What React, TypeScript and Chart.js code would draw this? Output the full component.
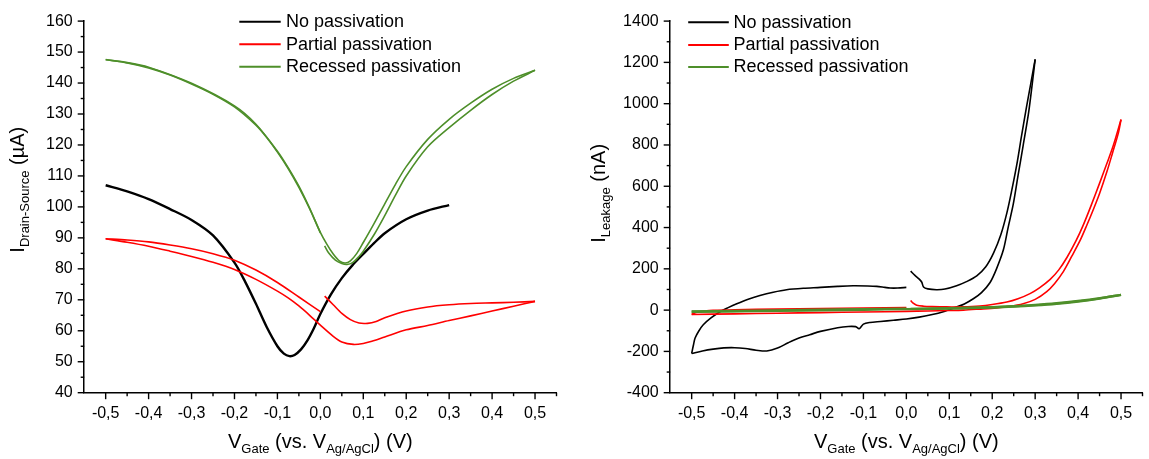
import React, { useEffect, useRef } from 'react';
import Chart from 'chart.js/auto';

const FONT = "Arial, 'Liberation Sans', sans-serif";
const BLACK = '#000000';
const RED = '#ff0000';
const GREEN = '#4e8f2a';

const seriesNames = ['No passivation', 'Partial passivation', 'Recessed passivation'];
const seriesColors = [BLACK, RED, GREEN];

const xTickValues = [-0.5, -0.4, -0.3, -0.2, -0.1, 0, 0.1, 0.2, 0.3, 0.4, 0.5];
const xTickLabels = ['-0,5', '-0,4', '-0,3', '-0,2', '-0,1', '0,0', '0,1', '0,2', '0,3', '0,4', '0,5'];
const idsTickValues = [40, 50, 60, 70, 80, 90, 100, 110, 120, 130, 140, 150, 160];
const idsTickLabels = ['40', '50', '60', '70', '80', '90', '100', '110', '120', '130', '140', '150', '160'];
const leakTickValues = [-400, -200, 0, 200, 400, 600, 800, 1000, 1200, 1400];
const leakTickLabels = ['-400', '-200', '0', '200', '400', '600', '800', '1000', '1200', '1400'];

// ---------- Left panel: I Drain-Source (µA) ----------
const idsNoV = [-0.5, -0.45, -0.4, -0.35, -0.3, -0.25, -0.2, -0.175, -0.15, -0.125, -0.1, -0.085, -0.072, -0.06, -0.045, -0.03, -0.015, 0.0, 0.025, 0.05, 0.075, 0.1, 0.125, 0.15, 0.2, 0.25, 0.3];
const idsNoI = [107.0, 105.0, 102.5, 99.3, 95.8, 90.8, 82.0, 75.8, 68.7, 61.2, 55.0, 52.6, 51.8, 52.2, 54.0, 56.9, 60.8, 65.4, 71.8, 77.0, 81.2, 84.8, 88.3, 91.5, 96.0, 98.8, 100.6];

const idsPartFwdV = [0.01, 0.03, 0.05, 0.07, 0.09, 0.11, 0.13, 0.15, 0.2, 0.25, 0.3, 0.35, 0.4, 0.45, 0.5];
const idsPartFwdI = [71.2, 68.4, 65.6, 63.6, 62.5, 62.4, 63.0, 64.2, 66.4, 67.7, 68.4, 68.8, 69.0, 69.2, 69.5];
const idsPartRevV = [0.5, 0.45, 0.4, 0.35, 0.3, 0.25, 0.2, 0.15, 0.12, 0.1, 0.077, 0.05, 0.03, 0.0, -0.025, -0.05, -0.075, -0.1, -0.15, -0.2, -0.25, -0.3, -0.35, -0.4, -0.45, -0.5];
const idsPartRevI = [69.5, 67.9, 66.4, 64.8, 63.3, 61.7, 60.3, 58.0, 56.6, 55.9, 55.6, 56.4, 58.2, 61.8, 65.0, 68.0, 70.6, 72.8, 76.6, 79.8, 82.1, 84.0, 85.7, 87.3, 88.6, 89.7];
const idsPartRetV = [-0.5, -0.45, -0.4, -0.35, -0.3, -0.25, -0.2, -0.15, -0.1, -0.05, 0.0];
const idsPartRetI = [89.7, 89.3, 88.7, 87.7, 86.5, 84.9, 82.8, 79.6, 75.6, 70.9, 66.2];

const idsRecFwdV = [0.01, 0.02, 0.035, 0.05, 0.062, 0.075, 0.09, 0.1, 0.125, 0.15, 0.175, 0.2, 0.25, 0.3, 0.35, 0.4, 0.45, 0.5];
const idsRecFwdI = [87.4, 85.0, 82.8, 81.7, 81.4, 82.0, 84.0, 85.7, 91.0, 97.2, 103.8, 110.0, 119.4, 125.6, 131.2, 136.3, 140.6, 144.1];
const idsRecRevV = [0.5, 0.45, 0.4, 0.35, 0.3, 0.25, 0.2, 0.175, 0.15, 0.125, 0.1, 0.085, 0.07, 0.058, 0.045, 0.03, 0.015, 0.0, -0.025, -0.05, -0.075, -0.1, -0.125, -0.15, -0.2, -0.25, -0.3, -0.35, -0.4, -0.45, -0.5];
const idsRecRevI = [144.1, 141.5, 138.0, 133.5, 128.3, 121.8, 113.0, 107.3, 101.0, 94.6, 88.5, 85.0, 82.6, 81.9, 82.5, 84.8, 88.0, 91.8, 99.4, 106.3, 112.4, 117.7, 122.4, 126.4, 132.3, 136.4, 139.7, 142.6, 144.9, 146.5, 147.6];
const idsRecRetV = [-0.5, -0.45, -0.4, -0.3, -0.2, -0.15, -0.1, -0.075, -0.05, -0.025, 0.0];
const idsRecRetI = [147.5, 146.6, 145.1, 139.9, 132.6, 126.7, 118.0, 112.7, 106.7, 99.6, 91.6];

// ---------- Right panel: I Leakage (nA) ----------
const lkNoFwdV = [0.01, 0.02, 0.03, 0.036, 0.04, 0.05, 0.07, 0.09, 0.117, 0.14, 0.164, 0.185, 0.203, 0.22, 0.234, 0.245, 0.257, 0.268, 0.28, 0.29, 0.3];
const lkNoFwdI = [189, 168, 150, 135, 112, 103, 99, 102, 118, 138, 166, 210, 276, 365, 470, 575, 702, 840, 986, 1100, 1215];
const lkNoRevV = [0.3, 0.296, 0.285, 0.272, 0.26, 0.249, 0.237, 0.226, 0.21, 0.195, 0.175, 0.156, 0.135, 0.117, 0.09, 0.055, 0.03, 0.0, -0.03, -0.06, -0.085, -0.1, -0.11, -0.118, -0.135, -0.16, -0.2, -0.225, -0.25, -0.275, -0.3, -0.325, -0.35, -0.375, -0.4, -0.425, -0.45, -0.475, -0.5];
const lkNoRevI = [1215, 1144, 960, 797, 650, 513, 400, 292, 200, 134, 85, 55, 30, 15, -5, -24, -34, -43, -49, -55, -60, -68, -90, -80, -79, -85, -103, -119, -135, -158, -184, -198, -194, -186, -182, -183, -189, -198, -210];
const lkNoRetV = [-0.5, -0.496, -0.492, -0.483, -0.473, -0.455, -0.434, -0.415, -0.395, -0.37, -0.341, -0.31, -0.279, -0.24, -0.2, -0.16, -0.124, -0.09, -0.069, -0.05, -0.038, -0.02, 0.0];
const lkNoRetI = [-210, -170, -135, -100, -71, -38, -8, 12, 31, 52, 71, 87, 99, 106, 110, 115, 118, 117, 115, 110, 107, 107, 110];

const lkPartFwdV = [0.01, 0.015, 0.024, 0.04, 0.06, 0.094, 0.13, 0.171, 0.2, 0.234, 0.26, 0.288, 0.31, 0.335, 0.355, 0.374, 0.395, 0.412, 0.43, 0.451, 0.467, 0.482, 0.5];
const lkPartFwdI = [47, 35, 24, 19, 17, 15.5, 16, 20, 27, 39, 55, 80, 108, 149, 195, 255, 335, 412, 505, 620, 710, 797, 923];
const lkPartRevV = [0.5, 0.494, 0.48, 0.467, 0.45, 0.436, 0.42, 0.405, 0.385, 0.366, 0.345, 0.327, 0.3, 0.272, 0.24, 0.21, 0.17, 0.133, 0.1, 0.05, 0.0, -0.1, -0.2, -0.3, -0.4, -0.5];
const lkPartRevI = [923, 860, 760, 670, 565, 490, 410, 339, 260, 188, 128, 90, 52, 31, 18, 11, 5, 0, -2, -4, -6, -9, -12, -15, -18, -21];
const lkPartRetV = [-0.5, -0.49, -0.47, -0.45, -0.4, -0.3, -0.2, -0.1, 0.0];
const lkPartRetI = [-21, -12, -5, -1, 2, 5, 8, 10.5, 13];

const lkRecFwdV = [0.01, 0.1, 0.2, 0.25, 0.3, 0.35, 0.4, 0.45, 0.5];
const lkRecFwdI = [6, 8, 13, 17, 23, 31, 42, 56, 74];
const lkRecRevV = [0.5, 0.45, 0.4, 0.35, 0.3, 0.25, 0.2, 0.1, 0.0, -0.1, -0.2, -0.3, -0.4, -0.5];
const lkRecRevI = [74, 57.5, 44, 33, 25, 19, 14.5, 9, 5, 2, -1, -3.5, -6, -8];
const lkRecRetV = [-0.5, -0.4, -0.3, -0.2, -0.1, 0.0];
const lkRecRetI = [-7, -4, -1, 2, 5, 7];

function branch(vs: number[], is: number[], color: string, width: number, order: number) {
  return {
    data: vs.map((v, k) => ({ x: v, y: is[k] })),
    borderColor: color,
    backgroundColor: color,
    borderWidth: width,
    showLine: true,
    pointRadius: 0,
    pointHoverRadius: 0,
    fill: false,
    tension: 0.3,
    borderJoinStyle: 'round',
    order,
  };
}

type Seg = { t: string; sub?: boolean };

function drawRich(ctx: CanvasRenderingContext2D, segs: Seg[], main: number, sub: number, shift: number) {
  let total = 0;
  const widths = segs.map((s) => {
    ctx.font = `${s.sub ? sub : main}px ${FONT}`;
    const w = ctx.measureText(s.t).width;
    total += w;
    return w;
  });
  let x = -total / 2;
  ctx.textBaseline = 'alphabetic';
  ctx.textAlign = 'left';
  segs.forEach((s, i) => {
    ctx.font = `${s.sub ? sub : main}px ${FONT}`;
    ctx.fillText(s.t, x, s.sub ? shift : 0);
    x += widths[i];
  });
}

const decorPlugin = {
  id: 'decor',
  afterDraw(chart: any, _args: any, o: any) {
    const ctx: CanvasRenderingContext2D = chart.ctx;
    const xs = chart.scales.x;
    const ys = chart.scales.y;
    const area = chart.chartArea;
    ctx.save();
    ctx.strokeStyle = '#000';
    ctx.lineWidth = 1.4;
    const seg = (x1: number, y1: number, x2: number, y2: number) => {
      ctx.beginPath();
      ctx.moveTo(x1, y1);
      ctx.lineTo(x2, y2);
      ctx.stroke();
    };
    const majX: number[] = o.xMajor;
    const majY: number[] = o.yMajor;
    majX.forEach((v) => {
      const p = xs.getPixelForValue(v);
      seg(p, area.bottom, p, area.bottom + 6.5);
    });
    for (let i = 0; i < majX.length - 1; i++) {
      const p = xs.getPixelForValue((majX[i] + majX[i + 1]) / 2);
      seg(p, area.bottom, p, area.bottom + 3.5);
    }
    {
      const step = majX[1] - majX[0];
      const pl = xs.getPixelForValue(majX[majX.length - 1] + step / 2);
      if (pl <= area.right + 0.5) seg(pl, area.bottom, pl, area.bottom + 3.5);
    }
    majY.forEach((v) => {
      const p = ys.getPixelForValue(v);
      seg(area.left, p, area.left - 6.5, p);
    });
    for (let i = 0; i < majY.length - 1; i++) {
      const p = ys.getPixelForValue((majY[i] + majY[i + 1]) / 2);
      seg(area.left, p, area.left - 3.5, p);
    }

    // axis titles
    ctx.fillStyle = '#000';
    ctx.save();
    ctx.translate((area.left + area.right) / 2, o.xTitleY);
    drawRich(ctx, o.xTitle, 20, 13, 5);
    ctx.restore();
    ctx.save();
    ctx.translate(o.yTitleX, o.yTitleCY);
    ctx.rotate(-Math.PI / 2);
    drawRich(ctx, o.yTitle, 20, 13, 5);
    ctx.restore();

    // legend
    const L = o.legend;
    ctx.font = `18px ${FONT}`;
    ctx.textBaseline = 'middle';
    ctx.textAlign = 'left';
    seriesNames.forEach((name, i) => {
      const y = L.rows[i];
      ctx.strokeStyle = seriesColors[i];
      ctx.lineWidth = 2;
      seg(L.x1, y, L.x2, y);
      ctx.fillStyle = '#000';
      ctx.fillText(name, L.tx, y + 0.5);
    });
    ctx.restore();
  },
};

function makeConfig(p: any) {
  return {
    type: 'scatter',
    data: { datasets: p.datasets },
    plugins: [decorPlugin],
    options: {
      responsive: false,
      animation: false,
      events: [],
      layout: { padding: { left: 0, top: p.top, right: p.canvasW - p.right, bottom: 0 } },
      plugins: {
        legend: { display: false },
        tooltip: { enabled: false },
        decor: p.decor,
      },
      scales: {
        x: {
          type: 'linear',
          position: 'bottom',
          min: -0.55,
          max: 0.55,
          afterBuildTicks: (axis: any) => {
            axis.ticks = xTickValues.map((v) => ({ value: v }));
          },
          afterFit: (s: any) => {
            s.height = 459 - p.bottom;
          },
          grid: { display: false, drawTicks: false, tickLength: 0 },
          border: { display: true, color: '#000', width: 1.5 },
          ticks: {
            autoSkip: false,
            maxRotation: 0,
            minRotation: 0,
            padding: 11,
            color: '#000',
            font: { family: FONT, size: 16 },
            callback: (_v: any, i: number) => xTickLabels[i],
          },
        },
        y: {
          type: 'linear',
          position: 'left',
          min: p.yMin,
          max: p.yMax,
          afterBuildTicks: (axis: any) => {
            axis.ticks = p.yTicks.map((v: number) => ({ value: v }));
          },
          afterFit: (s: any) => {
            s.width = p.left;
          },
          grid: { display: false, drawTicks: false, tickLength: 0 },
          border: { display: true, color: '#000', width: 1.5 },
          ticks: {
            autoSkip: false,
            padding: 11.5,
            color: '#000',
            font: { family: FONT, size: 16 },
            callback: (_v: any, i: number) => p.yLabels[i],
          },
        },
      },
    },
  };
}

const xTitleSegs: Seg[] = [
  { t: 'V' },
  { t: 'Gate', sub: true },
  { t: ' (vs. V' },
  { t: 'Ag/AgCl', sub: true },
  { t: ') (V)' },
];

export default function App() {
  const leftRef = useRef<HTMLCanvasElement>(null);
  const rightRef = useRef<HTMLCanvasElement>(null);

  useEffect(() => {
    const leftCfg = makeConfig({
      canvasW: 575,
      left: 84.2,
      right: 556.5,
      top: 12.7,
      bottom: 392.7,
      yMin: 40,
      yMax: 160,
      yTicks: idsTickValues,
      yLabels: idsTickLabels,
      datasets: [
        branch(idsNoV, idsNoI, BLACK, 2.4, 3),
        branch(idsPartFwdV, idsPartFwdI, RED, 1.6, 2),
        branch(idsPartRevV, idsPartRevI, RED, 1.6, 2),
        branch(idsPartRetV, idsPartRetI, RED, 1.6, 2),
        branch(idsRecFwdV, idsRecFwdI, GREEN, 1.6, 1),
        branch(idsRecRevV, idsRecRevI, GREEN, 1.6, 1),
        branch(idsRecRetV, idsRecRetI, GREEN, 1.6, 1),
      ],
      decor: {
        xMajor: xTickValues,
        yMajor: idsTickValues,
        xTitle: xTitleSegs,
        xTitleY: 448,
        yTitle: [{ t: 'I' }, { t: 'Drain-Source', sub: true }, { t: ' (µA)' }],
        yTitleX: 24,
        yTitleCY: 189.7,
        legend: { x1: 239.3, x2: 280.7, tx: 286, rows: [21.7, 44.3, 66.7] },
      },
    });
    const rightCfg = makeConfig({
      canvasW: 574,
      left: 95.2,
      right: 567.5,
      top: 12.7,
      bottom: 392.7,
      yMin: -400,
      yMax: 1400,
      yTicks: leakTickValues,
      yLabels: leakTickLabels,
      datasets: [
        branch(lkNoFwdV, lkNoFwdI, BLACK, 1.6, 3),
        branch(lkNoRevV, lkNoRevI, BLACK, 1.6, 3),
        branch(lkNoRetV, lkNoRetI, BLACK, 1.6, 3),
        branch(lkPartFwdV, lkPartFwdI, RED, 1.6, 2),
        branch(lkPartRevV, lkPartRevI, RED, 1.6, 2),
        branch(lkPartRetV, lkPartRetI, RED, 1.6, 2),
        branch(lkRecFwdV, lkRecFwdI, GREEN, 2.4, 1),
        branch(lkRecRevV, lkRecRevI, GREEN, 2.4, 1),
        branch(lkRecRetV, lkRecRetI, GREEN, 2.4, 1),
      ],
      decor: {
        xMajor: xTickValues,
        yMajor: leakTickValues,
        xTitle: xTitleSegs,
        xTitleY: 448,
        yTitle: [{ t: 'I' }, { t: 'Leakage', sub: true }, { t: ' (nA)' }],
        yTitleX: 29.7,
        yTitleCY: 193.3,
        legend: { x1: 113.2, x2: 153.8, tx: 158.5, rows: [22.3, 45, 67] },
      },
    });
    const c1 = new Chart(leftRef.current as HTMLCanvasElement, leftCfg as any);
    const c2 = new Chart(rightRef.current as HTMLCanvasElement, rightCfg as any);
    return () => {
      c1.destroy();
      c2.destroy();
    };
  }, []);

  return (
    <div style={{ position: 'absolute', left: 0, top: 0, width: 1149, height: 459, background: '#ffffff' }}>
      <canvas ref={leftRef} width={575} height={459} style={{ position: 'absolute', left: 0, top: 0 }} />
      <canvas ref={rightRef} width={574} height={459} style={{ position: 'absolute', left: 575, top: 0 }} />
    </div>
  );
}
